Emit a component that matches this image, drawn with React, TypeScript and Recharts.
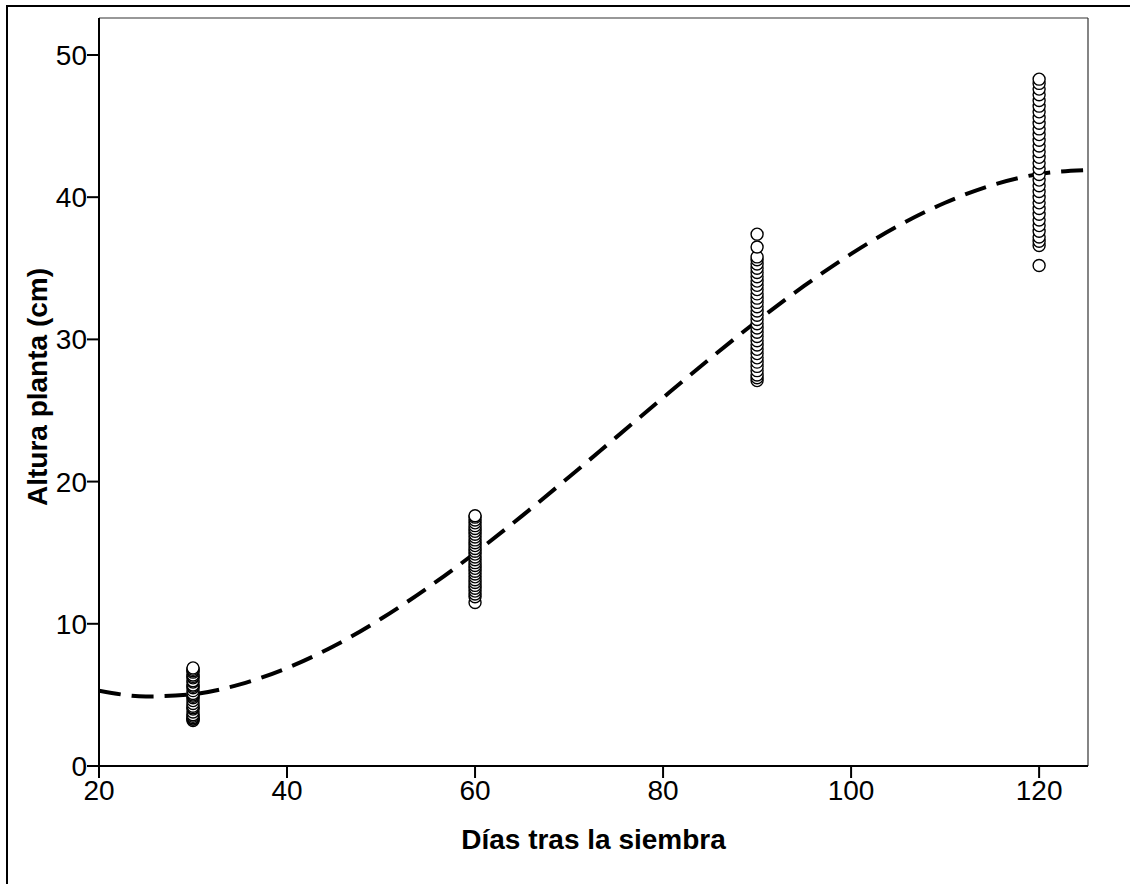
import React from 'react';
import {
  ComposedChart,
  Scatter,
  Line,
  XAxis,
  YAxis,
  ZAxis,
  Label,
  ReferenceLine,
} from 'recharts';

// Alturas observadas por día de muestreo (cm)
const dias = [30, 60, 90, 120];

const altura30 = [
  3.2, 3.3, 3.3, 3.4, 3.5, 3.6, 3.8, 4.0, 4.1, 4.2, 4.4, 4.6, 4.8, 4.9, 5.0,
  5.1, 5.3, 5.5, 5.6, 5.7, 5.9, 6.0, 6.2, 6.3, 6.4, 6.6, 6.7, 6.8, 6.9,
];

const altura60 = [
  11.5, 11.9, 12.1, 12.3, 12.5, 12.7, 12.9, 13.1, 13.3, 13.5, 13.7, 13.9, 14.1,
  14.3, 14.5, 14.7, 14.9, 15.1, 15.3, 15.5, 15.7, 15.9, 16.1, 16.3, 16.5, 16.7,
  16.9, 17.1, 17.3, 17.5, 17.6,
];

const altura90 = [
  27.1, 27.3, 27.5, 27.8, 28.1, 28.4, 28.7, 29.0, 29.3, 29.6, 29.9, 30.2, 30.5,
  30.8, 31.1, 31.4, 31.7, 32.0, 32.3, 32.6, 32.9, 33.2, 33.5, 33.8, 34.1, 34.4,
  34.7, 35.0, 35.3, 35.6, 35.8, 36.5, 37.4,
];

const altura120 = [
  35.2, 36.6, 36.9, 37.2, 37.6, 38.0, 38.4, 38.8, 39.2, 39.6, 40.0, 40.4, 40.8,
  41.2, 41.6, 42.0, 42.4, 42.8, 43.2, 43.6, 44.0, 44.4, 44.8, 45.2, 45.6, 46.0,
  46.4, 46.8, 47.2, 47.6, 48.0, 48.3,
];

// Curva de ajuste (línea discontinua)
const curvaX = [
  20, 25, 30, 35, 40, 45, 50, 55, 60, 65, 70, 75, 80, 85, 90, 95, 100, 105, 110,
  115, 120, 125,
];
const curvaY = [
  5.3, 4.89, 5.05, 5.74, 6.89, 8.44, 10.35, 12.55, 14.98, 17.59, 20.32, 23.11,
  25.9, 28.65, 31.29, 33.76, 36.01, 37.98, 39.61, 40.85, 41.63, 41.9,
];

const xTicks = [20, 40, 60, 80, 100, 120];
const yTicks = [0, 10, 20, 30, 40, 50];

const X_MAX = 125.2;
const Y_MAX = 52.6;

const grupos = [altura30, altura60, altura90, altura120];
const puntos = grupos.flatMap((valores, i) =>
  valores.map((altura) => ({ dia: dias[i], altura }))
);
const curva = curvaX.map((dia, i) => ({ dia, ajuste: curvaY[i] }));

const FONT = 'Liberation Sans, Arial, sans-serif';

const Circulo = (props: any) => {
  const { cx, cy } = props;
  if (cx == null || cy == null) return null;
  return <circle cx={cx} cy={cy} r={6} fill="#fff" stroke="#000" strokeWidth={1.4} />;
};

export default function App() {
  return (
    <div
      style={{
        position: 'absolute',
        left: 6,
        top: 5,
        width: 1140,
        height: 900,
        border: '2px solid #000',
        background: '#fff',
      }}
    >
      <ComposedChart
        width={1130}
        height={880}
        margin={{ top: 11, right: 50, bottom: 0, left: 0 }}
        style={{ fontFamily: FONT }}
      >
        <XAxis
          type="number"
          dataKey="dia"
          domain={[20, X_MAX]}
          ticks={xTicks}
          allowDataOverflow
          height={121}
          stroke="#000"
          strokeWidth={2}
          tickSize={12}
          tickMargin={2}
          tick={{ fill: '#000', fontSize: 28, fontFamily: FONT }}
        >
          <Label
            value="Días tras la siembra"
            position="insideBottom"
            offset={38}
            style={{ fontSize: 28, fontWeight: 'bold', fill: '#000', fontFamily: FONT }}
          />
        </XAxis>
        <YAxis
          type="number"
          dataKey="altura"
          domain={[0, Y_MAX]}
          ticks={yTicks}
          allowDataOverflow
          width={91}
          stroke="#000"
          strokeWidth={2}
          tickSize={12}
          tickMargin={0}
          tick={{ fill: '#000', fontSize: 28, fontFamily: FONT }}
        >
          <Label
            value="Altura planta (cm)"
            angle={-90}
            position="insideLeft"
            offset={29}
            dy={-5}
            style={{
              fontSize: 28,
              fontWeight: 'bold',
              fill: '#000',
              fontFamily: FONT,
              textAnchor: 'middle',
            }}
          />
        </YAxis>
        <ZAxis range={[144, 144]} />
        <ReferenceLine y={Y_MAX} stroke="#333" strokeWidth={1.2} />
        <ReferenceLine x={X_MAX} stroke="#333" strokeWidth={1.2} />
        <Line
          data={curva}
          dataKey="ajuste"
          type="monotone"
          stroke="#000"
          strokeWidth={4}
          strokeDasharray="22 11"
          dot={false}
          activeDot={false}
          isAnimationActive={false}
        />
        <Scatter
          data={puntos}
          dataKey="altura"
          shape={<Circulo />}
          isAnimationActive={false}
        />
      </ComposedChart>
    </div>
  );
}
